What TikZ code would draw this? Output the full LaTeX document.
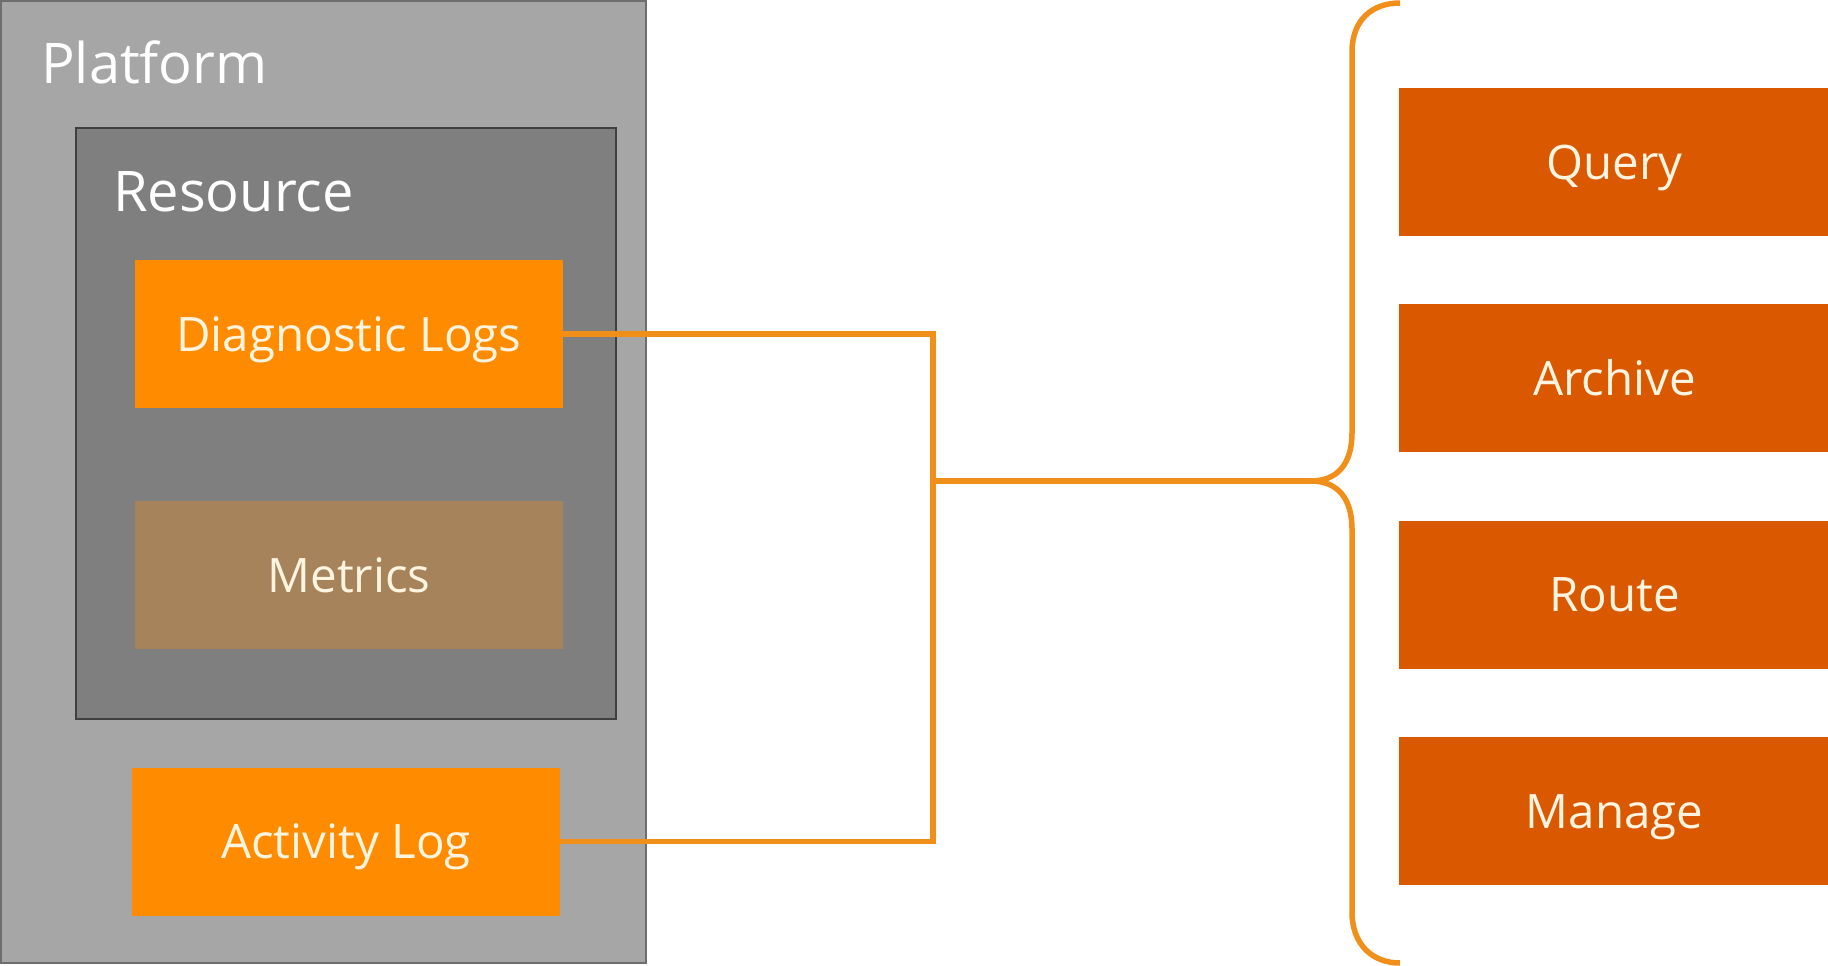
\documentclass[tikz,border=0pt]{standalone}
\usepackage{fontspec}
\setmainfont{Open Sans}
\definecolor{platfill}{HTML}{A6A6A6}
\definecolor{platline}{HTML}{6E6E6E}
\definecolor{resfill}{HTML}{7F7F7F}
\definecolor{resline}{HTML}{3F3F3F}
\definecolor{logorange}{HTML}{FF8C00}
\definecolor{metricfill}{HTML}{A6835A}
\definecolor{actionfill}{HTML}{DA5800}
\definecolor{connorange}{HTML}{F0901A}
\definecolor{labeltext}{HTML}{FFF4E0}
\begin{document}
\begin{tikzpicture}[x=1pt,y=-1pt,
  container/.style={rectangle, inner sep=0pt, line width=2pt},
  logbox/.style={rectangle, inner sep=0pt, fill=logorange, minimum width=428pt, minimum height=148pt,
    text=labeltext, font=\fontsize{47.5}{54}\selectfont, text height=34pt, text depth=0pt},
  actionbox/.style={rectangle, inner sep=0pt, fill=actionfill, minimum width=431pt, minimum height=148pt,
    text=labeltext, font=\fontsize{47.5}{54}\selectfont, text height=34pt, text depth=0pt},
  title/.style={anchor=base west, inner sep=0pt, text=white, font=\fontsize{56}{64}\selectfont},
  conn/.style={draw=connorange, line width=5.5pt}
]
\useasboundingbox (0,0) rectangle (1828,966);
\fill[white] (0,0) rectangle (1828,966);

\node[container, draw=platline, fill=platfill, minimum width=645pt, minimum height=961pt] (platform) at (323.5,482) {};
\node[title] (platformlabel) at (41,84) {Platform};
\node[container, draw=resline, fill=resfill, minimum width=540pt, minimum height=591pt] (resource) at (346,423.5) {};
\node[title] (resourcelabel) at (113,211) {Resource};

\node[logbox] (diag) at (349,334) {Diagnostic Logs};
\node[logbox, fill=metricfill] (metrics) at (349,575) {Metrics};
\node[logbox] (act) at (346,841.5) {Activity Log};

\node[actionbox] (query) at (1614.5,162) {Query};
\node[actionbox] (archive) at (1614.5,378) {Archive};
\node[actionbox] (route) at (1614.5,594.5) {Route};
\node[actionbox] (manage) at (1614.5,811) {Manage};

\coordinate (jx) at (933,481);
\coordinate (tip) at (1311,481);

\draw[conn] (diag.east) -| (jx) |- (act.east);
\draw[conn] (jx) -- (tip);

\draw[conn, line join=round]
  (1400,3) .. controls (1372,3) and (1352,20) .. (1352,52)
  -- (1352,433) .. controls (1352,463) and (1338,481) .. (tip)
  .. controls (1338,481) and (1352,499) .. (1352,529)
  -- (1352,912) .. controls (1352,944) and (1372,963) .. (1400,963);
\end{tikzpicture}
\end{document}
